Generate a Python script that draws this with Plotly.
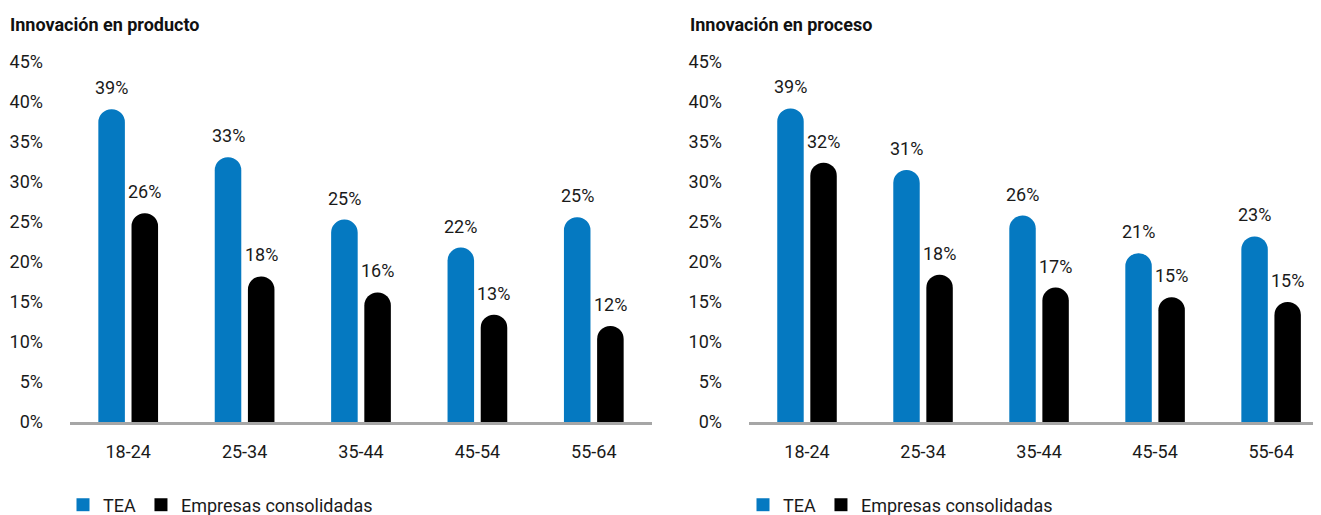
import plotly.graph_objects as go

categories = ["18-24", "25-34", "35-44", "45-54", "55-64"]
series_names = ["TEA", "Empresas consolidadas"]

producto_tea = [39.1, 33.1, 25.3, 21.8, 25.6]
producto_emp = [26.1, 18.2, 16.2, 13.4, 12.0]
producto_tea_labels = ["39%", "33%", "25%", "22%", "25%"]
producto_emp_labels = ["26%", "18%", "16%", "13%", "12%"]

proceso_tea = [39.2, 31.5, 25.8, 21.1, 23.2]
proceso_emp = [32.4, 18.4, 16.8, 15.6, 15.0]
proceso_tea_labels = ["39%", "31%", "26%", "21%", "23%"]
proceso_emp_labels = ["32%", "18%", "17%", "15%", "15%"]

titles = ["Innovación en producto", "Innovación en proceso"]
y_ticks = [0, 5, 10, 15, 20, 25, 30, 35, 40, 45]
y_tick_labels = [f"{v}%" for v in y_ticks]

BLUE = "#0579c1"
BLACK = "#000000"
TXT = "#1a1a1a"
FONT = "Roboto"
PAGE_OFF = 8                      # default body margin of the html page
W, H = 1321 - PAGE_OFF, 515 - PAGE_OFF


def px(x):
    return (x - PAGE_OFF) / W


def py(y):
    return 1 - (y - PAGE_OFF) / H


BARGAP = 0.43
GROUPGAP = 0.2

fig = go.Figure()

panels = [
    (producto_tea, producto_emp, producto_tea_labels, producto_emp_labels, "x", "y", "legend"),
    (proceso_tea, proceso_emp, proceso_tea_labels, proceso_emp_labels, "x2", "y2", "legend2"),
]

annotations = []
offset = (1 - BARGAP) / 4
for tea, emp, tl, el, xa, ya, lg in panels:
    for name, vals, labs, col, sgn in [(series_names[0], tea, tl, BLUE, -1),
                                       (series_names[1], emp, el, BLACK, 1)]:
        fig.add_trace(go.Bar(
            x=categories, y=vals, name=name, xaxis=xa, yaxis=ya, showlegend=False,
            marker=dict(color=col, cornerradius="50%", line=dict(width=0)),
            hoverinfo="skip",
        ))
        # legend entry with a sharp square symbol
        fig.add_trace(go.Scatter(
            x=[None], y=[None], name=name, xaxis=xa, yaxis=ya, legend=lg,
            mode="markers", marker=dict(symbol="square", size=13, color=col),
            hoverinfo="skip",
        ))
        for i, (v, lab) in enumerate(zip(vals, labs)):
            annotations.append(dict(
                x=i + sgn * offset, y=v, xref=xa, yref=ya, text=lab,
                showarrow=False, yanchor="bottom", yshift=9,
                font=dict(family=FONT, size=18, color=TXT),
            ))

for k, t in enumerate(titles):
    annotations.append(dict(
        x=px([8, 688][k]), y=py(24), xref="paper", yref="paper",
        xanchor="left", yanchor="middle", text=f"<b>{t}</b>", showarrow=False,
        font=dict(family=FONT, size=18, color="#111111"),
    ))

ydom = [py(422), py(62)]
xaxis_common = dict(
    type="category", showline=True, linecolor="#a6a6a6", linewidth=3,
    showgrid=False, zeroline=False, ticks="", ticklabelstandoff=11,
    tickfont=dict(family=FONT, size=18, color=TXT),
)
yaxis_common = dict(
    range=[0, 45], tickvals=y_ticks, ticktext=y_tick_labels, showgrid=False,
    showline=False, zeroline=False, ticks="", ticklabelstandoff=26,
    tickfont=dict(family=FONT, size=18, color=TXT), domain=ydom,
)

legend_common = dict(
    orientation="h", y=py(505), xanchor="left", yanchor="middle",
    font=dict(family=FONT, size=18, color=TXT),
    bgcolor="rgba(0,0,0,0)", itemwidth=30, tracegroupgap=0,
)

fig.update_layout(
    width=W, height=H,
    margin=dict(l=0, r=0, t=0, b=0, autoexpand=False),
    paper_bgcolor="white", plot_bgcolor="white",
    barmode="group", bargap=BARGAP, bargroupgap=GROUPGAP,
    xaxis=dict(domain=[px(70), px(652)], anchor="y", range=[-0.5, 4.5], **xaxis_common),
    xaxis2=dict(domain=[px(749), 1.0], anchor="y2", range=[-0.5, 4.43], **xaxis_common),
    yaxis=dict(anchor="x", **yaxis_common),
    yaxis2=dict(anchor="x2", **yaxis_common),
    legend=dict(x=px(63), **legend_common),
    legend2=dict(x=px(743), **legend_common),
    annotations=annotations,
    showlegend=True,
)

fig.write_html("out.html")
